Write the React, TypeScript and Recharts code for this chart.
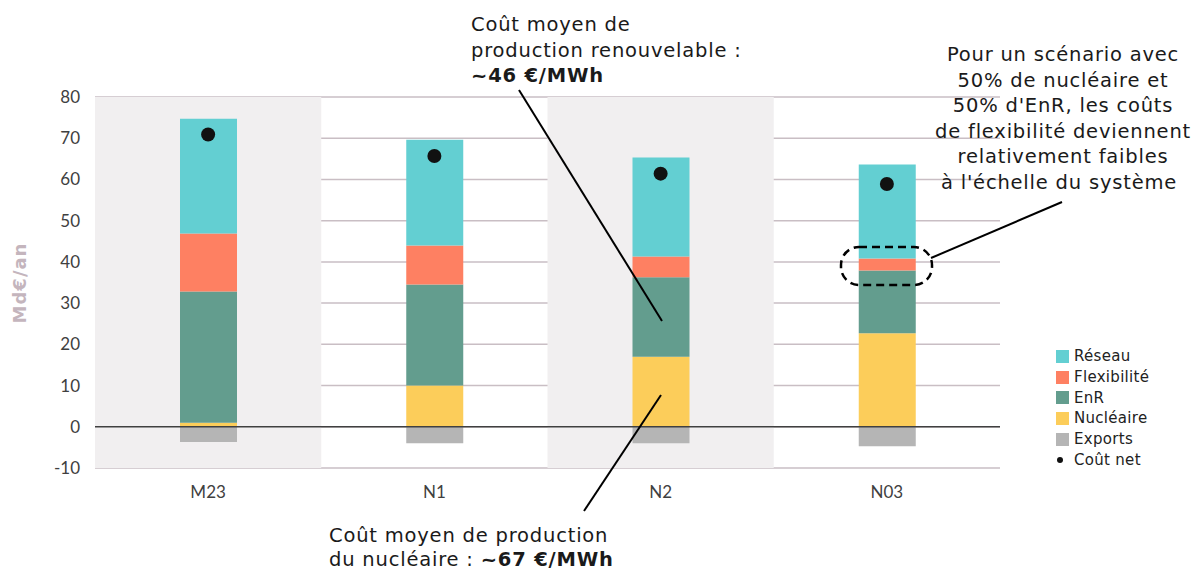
import React from 'react';
import {
  ComposedChart,
  Bar,
  Line,
  XAxis,
  YAxis,
  CartesianGrid,
  ReferenceArea,
  ReferenceLine,
} from 'recharts';

const categories = ['M23', 'N1', 'N2', 'N03'];
const nucleaire = [1.0, 10.0, 17.0, 22.7];
const enr = [31.8, 24.5, 19.3, 15.2];
const flexibilite = [14.1, 9.5, 5.0, 2.9];
const reseau = [27.8, 25.6, 24.0, 22.8];
const exportsVals = [-3.7, -4.0, -4.0, -4.7];
const coutNet = [70.9, 65.7, 61.4, 58.9];
const yTicks = [-10, 0, 10, 20, 30, 40, 50, 60, 70, 80];
const shadedCategories = ['M23', 'N2'];

const data = categories.map((cat, i) => ({
  cat,
  nucleaire: nucleaire[i],
  enr: enr[i],
  flexibilite: flexibilite[i],
  reseau: reseau[i],
  exports: exportsVals[i],
  coutNet: coutNet[i],
}));

const COLORS = {
  reseau: '#63cfd2',
  flexibilite: '#fe8062',
  enr: '#639d8e',
  nucleaire: '#fccd5a',
  exports: '#b5b5b5',
};

const legendItems = [
  { label: 'Réseau', color: COLORS.reseau, type: 'square' },
  { label: 'Flexibilité', color: COLORS.flexibilite, type: 'square' },
  { label: 'EnR', color: COLORS.enr, type: 'square' },
  { label: 'Nucléaire', color: COLORS.nucleaire, type: 'square' },
  { label: 'Exports', color: COLORS.exports, type: 'square' },
  { label: 'Coût net', color: '#111111', type: 'dot' },
];

const FONT = '"DejaVu Sans", Verdana, sans-serif';

const LegendBox = () => (
  <div
    style={{
      position: 'absolute',
      left: 1056,
      top: 346,
      fontFamily: FONT,
      fontSize: 15,
      letterSpacing: 0.3,
      color: '#222',
    }}
  >
    {legendItems.map((it) => (
      <div
        key={it.label}
        style={{ display: 'flex', alignItems: 'center', height: 20.7, whiteSpace: 'nowrap' }}
      >
        {it.type === 'square' ? (
          <span
            style={{ display: 'inline-block', width: 13, height: 13, background: it.color, marginRight: 5 }}
          />
        ) : (
          <span style={{ display: 'inline-block', width: 13, marginRight: 5, position: 'relative', height: 13 }}>
            <span
              style={{
                position: 'absolute',
                left: 1,
                top: 4,
                width: 6,
                height: 6,
                borderRadius: 3,
                background: it.color,
              }}
            />
          </span>
        )}
        <span>{it.label}</span>
      </div>
    ))}
  </div>
);

const textStyle: React.CSSProperties = {
  fontFamily: FONT,
  fontSize: 19.5,
  letterSpacing: 0.8,
  fill: '#1a1a1a',
};

export default function App() {
  return (
    <div style={{ position: 'absolute', left: 0, top: 0, width: 1199, height: 572, background: '#fff' }}>
      <ComposedChart
        width={1199}
        height={572}
        data={data}
        stackOffset="sign"
        margin={{ top: 97, right: 199, left: 0, bottom: 74 }}
        barSize={57}
      >
        {shadedCategories.map((c) => (
          <ReferenceArea key={c} x1={c} x2={c} y1={-10} y2={80} fill="#f1eff0" fillOpacity={1} stroke="none" />
        ))}
        <CartesianGrid vertical={false} stroke="#c9bec4" strokeWidth={1.5} />
        <XAxis
          dataKey="cat"
          tickLine={false}
          axisLine={false}
          height={30}
          tickSize={0}
          tickMargin={18}
          tick={{ fontFamily: 'Lato, sans-serif', fontSize: 17, fill: '#404040' }}
        />
        <YAxis
          domain={[-10, 80]}
          ticks={yTicks}
          width={95}
          tickLine={false}
          axisLine={false}
          tickSize={0}
          tickMargin={15}
          tick={{ fontFamily: 'Lato, sans-serif', fontSize: 17, fill: '#404040' }}
        />
        <Bar dataKey="exports" stackId="a" fill={COLORS.exports} isAnimationActive={false} />
        <Bar dataKey="nucleaire" stackId="a" fill={COLORS.nucleaire} isAnimationActive={false} />
        <Bar dataKey="enr" stackId="a" fill={COLORS.enr} isAnimationActive={false} />
        <Bar dataKey="flexibilite" stackId="a" fill={COLORS.flexibilite} isAnimationActive={false} />
        <Bar dataKey="reseau" stackId="a" fill={COLORS.reseau} isAnimationActive={false} />
        <Line
          dataKey="coutNet"
          stroke="none"
          dot={{ r: 7, fill: '#111111', stroke: 'none' }}
          activeDot={false}
          isAnimationActive={false}
        />
        <ReferenceLine y={0} stroke="#404040" strokeWidth={1.5} />
      </ComposedChart>
      <LegendBox />
      <svg
        width={1199}
        height={572}
        style={{ position: 'absolute', left: 0, top: 0, pointerEvents: 'none' }}
      >
        <text
          x={0}
          y={0}
          transform="translate(26,283) rotate(-90)"
          textAnchor="middle"
          style={{ fontFamily: FONT, fontSize: 18, letterSpacing: 1, fontWeight: 'bold', fill: '#c4b5bd' }}
        >
          Md€/an
        </text>
        <text x={471} y={31} style={textStyle}>Coût moyen de</text>
        <text x={471} y={57} style={textStyle}>production renouvelable :</text>
        <text x={471} y={82} style={{ ...textStyle, fontWeight: 'bold' }}>~46 €/MWh</text>
        <line x1={519} y1={90} x2={662} y2={321} stroke="#000" strokeWidth={2} />

        <text x={329} y={542} style={textStyle}>Coût moyen de production</text>
        <text x={329} y={566} style={textStyle}>
          du nucléaire : <tspan style={{ fontWeight: 'bold' }}>~67 €/MWh</tspan>
        </text>
        <line x1={584} y1={511} x2={661} y2={395} stroke="#000" strokeWidth={2} />

        <text x={1063} y={61} textAnchor="middle" style={textStyle}>Pour un scénario avec</text>
        <text x={1063} y={86.5} textAnchor="middle" style={textStyle}>50% de nucléaire et</text>
        <text x={1063} y={112} textAnchor="middle" style={textStyle}>50% d'EnR, les coûts</text>
        <text x={1063} y={137.5} textAnchor="middle" style={textStyle}>de flexibilité deviennent</text>
        <text x={1063} y={163} textAnchor="middle" style={textStyle}>relativement faibles</text>
        <text x={1059} y={188.5} textAnchor="middle" style={textStyle}>à l'échelle du système</text>
        <line x1={1062} y1={202} x2={931} y2={258} stroke="#000" strokeWidth={2} />
        <rect
          x={841}
          y={247}
          width={91}
          height={38}
          rx={18}
          ry={18}
          fill="none"
          stroke="#000"
          strokeWidth={2.5}
          strokeDasharray="8 5"
        />
      </svg>
    </div>
  );
}
